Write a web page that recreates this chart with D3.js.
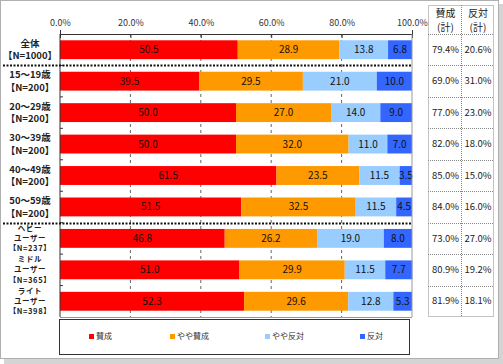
<!DOCTYPE html>
<html>
<head>
<meta charset="utf-8">
<style>
  body { margin: 0; background: #fff; }
  svg text { font-family: "Noto Sans CJK JP", sans-serif; }
</style>
</head>
<body>
<svg width="503" height="364"></svg>
<script src="https://d3js.org/d3.v7.min.js"></script>
<script>
// categories (lines of each label)
var labels = [
  ["全体", "【N=1000】"],
  ["15～19歳", "【N=200】"],
  ["20～29歳", "【N=200】"],
  ["30～39歳", "【N=200】"],
  ["40～49歳", "【N=200】"],
  ["50～59歳", "【N=200】"],
  ["ヘビー", "ユーザー", "【N=237】"],
  ["ミドル", "ユーザー", "【N=365】"],
  ["ライト", "ユーザー", "【N=398】"]
];
var seriesNames = ["賛成", "やや賛成", "やや反対", "反対"];
var sansei     = [50.5, 39.5, 50.0, 50.0, 61.5, 51.5, 46.8, 51.0, 52.3];
var yayaSansei = [28.9, 29.5, 27.0, 32.0, 23.5, 32.5, 26.2, 29.9, 29.6];
var yayaHantai = [13.8, 21.0, 14.0, 11.0, 11.5, 11.5, 19.0, 11.5, 12.8];
var hantai     = [6.8, 10.0, 9.0, 7.0, 3.5, 4.5, 8.0, 7.7, 5.3];
var sanseiTotal = ["79.4%", "69.0%", "77.0%", "82.0%", "85.0%", "84.0%", "73.0%", "80.9%", "81.9%"];
var hantaiTotal = ["20.6%", "31.0%", "23.0%", "18.0%", "15.0%", "16.0%", "27.0%", "19.2%", "18.1%"];
var tableHeads = [["賛成", "(計)"], ["反対", "(計)"]];
var xTicks = [0, 20, 40, 60, 80, 100];
var colors = ["#ff0000", "#ff9900", "#99ccff", "#3366ff"];

var svg = d3.select("svg");

// shadow + frame
svg.append("rect").attr("x", 4).attr("y", 4).attr("width", 499).attr("height", 360).attr("fill", "#d4d4d4");
svg.append("rect").attr("x", 0.5).attr("y", 0.5).attr("width", 498).attr("height", 358)
  .attr("fill", "#fff").attr("stroke", "#b0b0b0");

var rows = labels.map(function(l, i) {
  return { key: i, label: l, vals: [sansei[i], yayaSansei[i], yayaHantai[i], hantai[i]] };
});

var x = d3.scaleLinear().domain([0, 100]).range([60, 412]);
var y = d3.scaleBand().domain(d3.range(rows.length)).range([34, 317]).paddingInner(0.4).paddingOuter(0.2);

// gridlines
svg.append("g").selectAll("line").data(xTicks.slice(1, -1)).join("line")
  .attr("x1", d => x(d)).attr("x2", d => x(d)).attr("y1", 34).attr("y2", 317)
  .attr("stroke", "#666").attr("stroke-dasharray", "3,3");

// top axis labels
var xAxis = svg.append("g").attr("transform", "translate(0,34)")
  .call(d3.axisTop(x).tickValues(xTicks).tickSize(4).tickFormat(d => d.toFixed(1) + "%"));
xAxis.select(".domain").attr("stroke", "#333");
xAxis.selectAll(".tick line").attr("transform", "translate(0,4)").attr("stroke", "#333");
xAxis.selectAll("text").attr("y", -8).attr("font-size", 9).attr("fill", "#333")
  .attr("font-family", "'Noto Sans CJK JP', sans-serif");

// bars
var g = svg.append("g");
rows.forEach(function(r) {
  var acc = 0;
  r.vals.forEach(function(v, j) {
    var x0 = acc;
    acc += v;
    g.append("rect")
      .attr("x", x(x0)).attr("y", y(r.key))
      .attr("width", x(acc) - x(x0)).attr("height", y.bandwidth())
      .attr("fill", colors[j]);
    g.append("text")
      .attr("x", (x(x0) + x(acc)) / 2).attr("y", y(r.key) + y.bandwidth() / 2)
      .attr("dy", "0.35em").attr("text-anchor", "middle")
      .attr("font-size", 10).attr("fill", "#111")
      .text(v.toFixed(1));
  });
});

// plot frame
svg.append("line").attr("x1", 60).attr("x2", 60).attr("y1", 34).attr("y2", 317).attr("stroke", "#333");
svg.append("line").attr("x1", 412).attr("x2", 412).attr("y1", 34).attr("y2", 317).attr("stroke", "#999");
svg.append("line").attr("x1", 60).attr("x2", 412).attr("y1", 317.5).attr("y2", 317.5).attr("stroke", "#999");

// small ticks on left axis between rows
svg.append("g").selectAll("line").data(d3.range(1, rows.length)).join("line")
  .attr("x1", 60).attr("x2", 63)
  .attr("y1", d => y(d) - y.step() * 0.2).attr("y2", d => y(d) - y.step() * 0.2)
  .attr("stroke", "#333");

// dashed separators
[1, 6].forEach(function(i) {
  var yy = Math.round(y(i) - y.step() * 0.2) + 0.5;
  svg.append("line").attr("x1", 3).attr("x2", 412).attr("y1", yy).attr("y2", yy)
    .attr("stroke", "#111").attr("stroke-width", 2).attr("stroke-dasharray", "2,1.5");
});

// category labels
rows.forEach(function(r) {
  var n = r.label.length;
  var cy = y(r.key) + y.bandwidth() / 2;
  var pitch = n === 3 ? 10.2 : 12.5;
  var fs = n === 3 ? 7.5 : 9.5;
  r.label.forEach(function(t, k) {
    svg.append("text")
      .attr("x", 30).attr("y", cy + (k - (n - 1) / 2) * pitch)
      .attr("dy", "0.35em").attr("text-anchor", "middle")
      .attr("font-size", fs).attr("font-weight", "bold").attr("fill", "#222")
      .attr("letter-spacing", n === 3 ? 0.6 : 0)
      .text(t);
  });
});

// legend
var lg = svg.append("g");
lg.append("rect").attr("x", 59.5).attr("y", 319.5).attr("width", 350).attr("height", 35)
  .attr("fill", "#fff").attr("stroke", "#333");
var legendX = [89, 170, 265, 360];
seriesNames.forEach(function(s, j) {
  lg.append("rect").attr("x", legendX[j]).attr("y", 334).attr("width", 5).attr("height", 5).attr("fill", colors[j]);
  lg.append("text").attr("x", legendX[j] + 7).attr("y", 336.5).attr("dy", "0.35em")
    .attr("font-size", 8).attr("fill", "#333").text(s);
});

// right table
var tx = [428, 461, 493];
var tTop = 5, tHead = 34, tBottom = 316;
var tg = svg.append("g");
var bounds = [tHead].concat(d3.range(1, rows.length).map(i => y(i) - y.step() * 0.2)).concat([tBottom]);
tg.append("rect").attr("x", tx[0] + 0.5).attr("y", tTop + 0.5).attr("width", tx[2] - tx[0]).attr("height", tBottom - tTop)
  .attr("fill", "#fff").attr("stroke", "#888").attr("stroke-dasharray", "1,1");
tg.append("line").attr("x1", tx[1] + 0.5).attr("x2", tx[1] + 0.5).attr("y1", tTop).attr("y2", tBottom)
  .attr("stroke", "#888").attr("stroke-dasharray", "1,1");
bounds.slice(0, -1).forEach(function(b) {
  tg.append("line").attr("x1", tx[0]).attr("x2", tx[2]).attr("y1", Math.round(b) + 0.5).attr("y2", Math.round(b) + 0.5)
    .attr("stroke", "#888").attr("stroke-dasharray", "1,1");
});
tableHeads.forEach(function(h, c) {
  var cx = (tx[c] + tx[c + 1]) / 2 + 1;
  h.forEach(function(t, k) {
    tg.append("text").attr("x", cx).attr("y", 13 + k * 14).attr("dy", "0.35em")
      .attr("text-anchor", "middle").attr("font-size", 10).attr("fill", "#222").text(t);
  });
});
rows.forEach(function(r, i) {
  var cy = (bounds[i] + bounds[i + 1]) / 2;
  [sanseiTotal[i], hantaiTotal[i]].forEach(function(t, c) {
    tg.append("text").attr("x", (tx[c] + tx[c + 1]) / 2 + 1).attr("y", cy).attr("dy", "0.35em")
      .attr("text-anchor", "middle").attr("font-size", 9.5).attr("fill", "#222").text(t);
  });
});
</script>
</body>
</html>
